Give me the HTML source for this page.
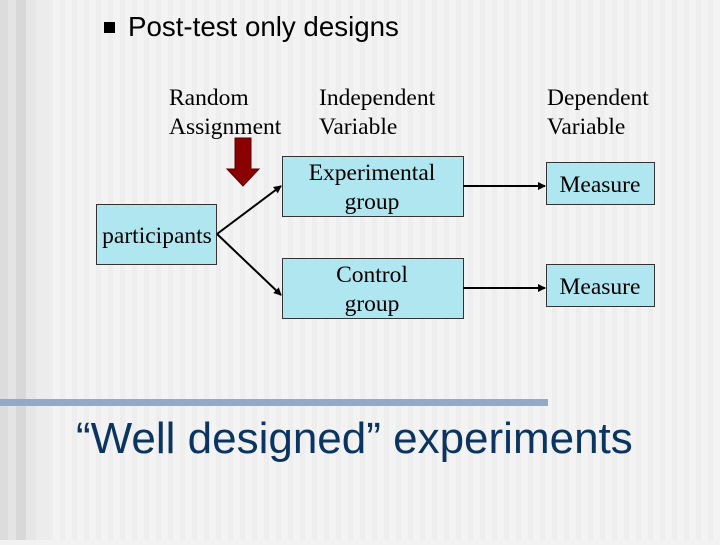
<!DOCTYPE html>
<html><head><style>
html,body{margin:0;padding:0;}
body{width:720px;height:540px;overflow:hidden;background:#f2f2f2;}
</style></head><body>
<svg width="720" height="540" xmlns="http://www.w3.org/2000/svg">
<defs>
<pattern id="st" width="12" height="540" patternUnits="userSpaceOnUse">
<rect width="12" height="540" fill="#f3f3f3"/><rect x="0" width="5" height="540" fill="#eeeeee"/>
</pattern>
<marker id="ah" markerWidth="8" markerHeight="8" refX="7" refY="4" orient="auto" markerUnits="userSpaceOnUse">
<path d="M0,0 L8,4 L0,8 z" fill="#000"/></marker>
</defs>
<rect width="720" height="540" fill="url(#st)"/>
<rect x="0" width="8" height="540" fill="#dcdcdc"/>
<rect x="8" width="8" height="540" fill="#e4e4e4"/>
<rect x="16" width="10" height="540" fill="#d8d8d8"/>
<rect x="26" width="10" height="540" fill="#e6e6e6"/>
<rect x="36" width="14" height="540" fill="#ececec"/>
<rect x="0" y="399" width="548" height="7" fill="#94a9c4"/>
<rect x="104" y="22" width="11" height="11" fill="#000"/>
<text x="128" y="36" font-family="Liberation Sans, sans-serif" font-size="27.7" fill="#000">Post-test only designs</text>
<g font-family="Liberation Serif, serif" font-size="23.5" fill="#000">
<text x="169" y="105">Random</text><text x="169" y="134">Assignment</text>
<text x="319" y="105">Independent</text><text x="319" y="134">Variable</text>
<text x="547" y="105">Dependent</text><text x="547" y="134">Variable</text>
</g>
<path d="M235,138 h16 v31 h8 l-16,17 l-16,-17 h8 z" fill="#8b0000" stroke="#5a0000" stroke-width="1"/>
<g fill="#b0e6f0" stroke="#333" stroke-width="1">
<rect x="96.5" y="204.5" width="120" height="60"/>
<rect x="282.5" y="156.5" width="181" height="60"/>
<rect x="282.5" y="258.5" width="181" height="60"/>
<rect x="546.5" y="162.5" width="108" height="42"/>
<rect x="546.5" y="264.5" width="108" height="42"/>
</g>
<g stroke="#000" stroke-width="2" fill="none">
<line x1="217" y1="234" x2="281" y2="186" marker-end="url(#ah)"/>
<line x1="217" y1="234" x2="281" y2="295" marker-end="url(#ah)"/>
<line x1="463" y1="186" x2="545" y2="186" marker-end="url(#ah)"/>
<line x1="463" y1="288" x2="545" y2="288" marker-end="url(#ah)"/>
</g>
<g font-family="Liberation Serif, serif" font-size="23.5" fill="#000" text-anchor="middle">
<text x="157" y="243">participants</text>
<text x="372" y="180">Experimental</text><text x="372" y="209">group</text>
<text x="372" y="282">Control</text><text x="372" y="311">group</text>
<text x="600" y="192">Measure</text>
<text x="600" y="294">Measure</text>
</g>
<text x="76" y="453" font-family="Liberation Sans, sans-serif" font-size="44" fill="#0b3560">“Well designed” experiments</text>
</svg>
</body></html>
